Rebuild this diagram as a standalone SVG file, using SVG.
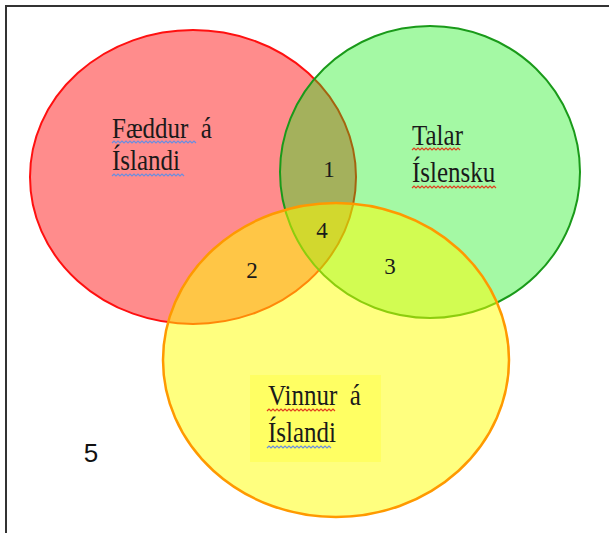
<svg xmlns="http://www.w3.org/2000/svg" width="609" height="533" viewBox="0 0 609 533">
<style>
.t{font-family:"Liberation Serif","Times New Roman",serif;font-size:25px;fill:#1a1a1a;white-space:pre}
.n{font-family:"Liberation Serif","Times New Roman",serif;font-size:23px;fill:#1a1a1a;text-anchor:middle}
.wb{fill:none;stroke:#6a8ee0;stroke-width:1.2}
.wr{fill:none;stroke:#e04020;stroke-width:1.2}
</style>
<rect width="609" height="533" fill="#fff"/>
<path d="M6 533 V6 H609" fill="none" stroke="#333" stroke-width="2"/>
<g id="red">
<ellipse cx="193" cy="177" rx="163" ry="147" fill="#ff0000" fill-opacity="0.45" stroke="#ff1010" stroke-width="2"/>
</g>
<g id="green">
<ellipse cx="430" cy="172" rx="150" ry="146" fill="#10ee10" fill-opacity="0.38" stroke="#1a9a1a" stroke-width="2"/>
</g>
<g id="yellow">
<ellipse cx="336" cy="360" rx="173" ry="157" fill="#ffff00" fill-opacity="0.5" stroke="#ff9900" stroke-width="2.5"/>
<rect x="250" y="375" width="131" height="87" fill="#ffff50" fill-opacity="0.6"/>
</g>
<g id="labels">
<text class="t" xml:space="preserve" transform="translate(112 138) scale(1 1.18)">Fæddur  á</text>
<text class="t" transform="translate(112 170) scale(1 1.18)">Íslandi</text>
<path class="wb" d="M112 143 l2 -2 l2 2 l2 -2 l2 2 l2 -2 l2 2 l2 -2 l2 2 l2 -2 l2 2 l2 -2 l2 2 l2 -2 l2 2 l2 -2 l2 2 l2 -2 l2 2 l2 -2 l2 2 l2 -2 l2 2 l2 -2 l2 2 l2 -2 l2 2 l2 -2 l2 2 l2 -2 l2 2 l2 -2 l2 2 l2 -2 l2 2 l2 -2 l2 2 l2 -2 l2 2 l2 -2 l2 2 l2 -2 l2 2"/>
<path class="wb" d="M112 176 l2 -2 l2 2 l2 -2 l2 2 l2 -2 l2 2 l2 -2 l2 2 l2 -2 l2 2 l2 -2 l2 2 l2 -2 l2 2 l2 -2 l2 2 l2 -2 l2 2 l2 -2 l2 2 l2 -2 l2 2 l2 -2 l2 2 l2 -2 l2 2 l2 -2 l2 2 l2 -2 l2 2 l2 -2 l2 2 l2 -2 l2 2 l2 -2 l2 2"/>
<text class="t" transform="translate(412 145) scale(1 1.18)">Talar</text>
<text class="t" transform="translate(412 182) scale(1 1.18)">Íslensku</text>
<path class="wr" d="M412 150 l2 -2 l2 2 l2 -2 l2 2 l2 -2 l2 2 l2 -2 l2 2 l2 -2 l2 2 l2 -2 l2 2 l2 -2 l2 2 l2 -2 l2 2 l2 -2 l2 2 l2 -2 l2 2 l2 -2 l2 2 l2 -2 l2 2"/>
<path class="wr" d="M412 188 l2 -2 l2 2 l2 -2 l2 2 l2 -2 l2 2 l2 -2 l2 2 l2 -2 l2 2 l2 -2 l2 2 l2 -2 l2 2 l2 -2 l2 2 l2 -2 l2 2 l2 -2 l2 2 l2 -2 l2 2 l2 -2 l2 2 l2 -2 l2 2 l2 -2 l2 2 l2 -2 l2 2 l2 -2 l2 2 l2 -2 l2 2 l2 -2 l2 2 l2 -2 l2 2 l2 -2 l2 2 l2 -2 l2 2"/>
<text class="t" xml:space="preserve" transform="translate(268 405) scale(1 1.18)">Vinnur  á</text>
<text class="t" transform="translate(268 442) scale(1 1.18)">Íslandi</text>
<path class="wr" d="M267 411 l2 -2 l2 2 l2 -2 l2 2 l2 -2 l2 2 l2 -2 l2 2 l2 -2 l2 2 l2 -2 l2 2 l2 -2 l2 2 l2 -2 l2 2 l2 -2 l2 2 l2 -2 l2 2 l2 -2 l2 2 l2 -2 l2 2 l2 -2 l2 2 l2 -2 l2 2 l2 -2 l2 2 l2 -2 l2 2 l2 -2 l2 2"/>
<path class="wb" d="M267 448 l2 -2 l2 2 l2 -2 l2 2 l2 -2 l2 2 l2 -2 l2 2 l2 -2 l2 2 l2 -2 l2 2 l2 -2 l2 2 l2 -2 l2 2 l2 -2 l2 2 l2 -2 l2 2 l2 -2 l2 2 l2 -2 l2 2 l2 -2 l2 2 l2 -2 l2 2 l2 -2 l2 2 l2 -2 l2 2"/>
<text class="n" x="329" y="177">1</text>
<text class="n" x="322" y="238">4</text>
<text class="n" x="252" y="278">2</text>
<text class="n" x="390" y="274">3</text>
<text x="91" y="462" style="font-family:'Liberation Sans',Arial,sans-serif;font-size:26px;fill:#111;text-anchor:middle">5</text>
</g>
</svg>
